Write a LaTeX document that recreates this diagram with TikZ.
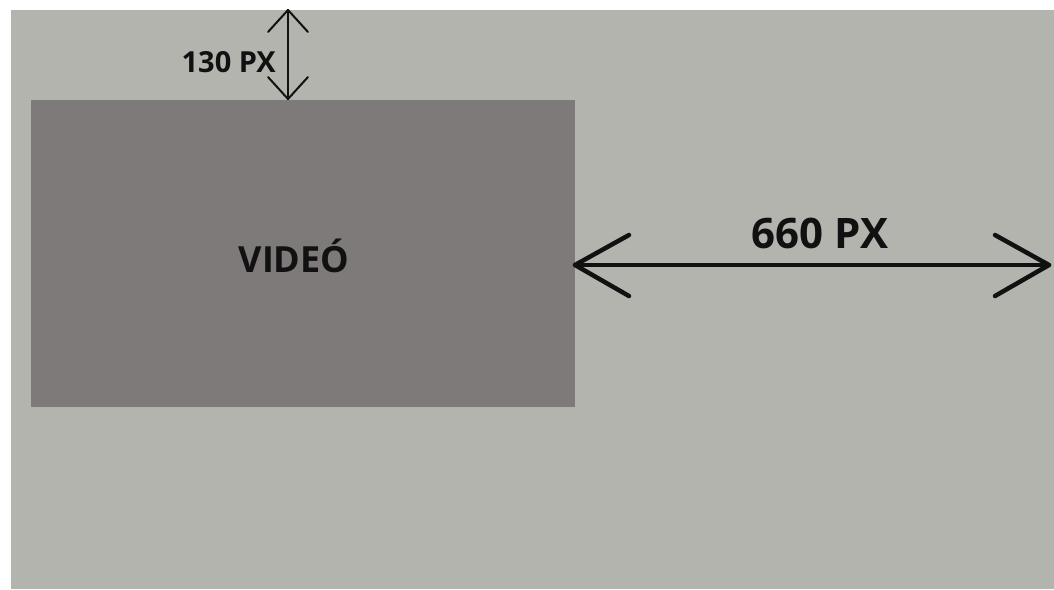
\documentclass[tikz,border=0pt]{standalone}
\usepackage{fontspec}
\setmainfont{Open Sans}
\usetikzlibrary{calc}
\definecolor{bggray}{HTML}{B4B4AE}
\definecolor{vidgray}{HTML}{7E7A7A}
\definecolor{ink}{HTML}{111111}
\begin{document}
\begin{tikzpicture}[x=1pt,y=-1pt,
  dimline/.style={draw=ink,line cap=round,line join=round},
  lbl/.style={text=ink,font=\bfseries,inner sep=0pt}]
\useasboundingbox (0,0) rectangle (1054,589);
\fill[white] (0,0) rectangle (1054,589);
\fill[bggray] (11,10) rectangle (1054,589);
\node[fill=vidgray,minimum width=544pt,minimum height=307pt,inner sep=0pt,anchor=north west] (video) at (31,100) {};
\node[lbl,font=\bfseries\fontsize{36}{40}\selectfont] (vlabel) at (294,256) {VIDEÓ};
% vertical dimension
\coordinate (vtop) at (288,10);
\coordinate (vbot) at (288,99);
\draw[dimline,line width=2pt] (vtop) -- (vbot);
\draw[dimline,line width=2pt] ($(vtop)+(-20,22)$) -- (vtop) -- ($(vtop)+(20,22)$);
\draw[dimline,line width=2pt] ($(vbot)+(-20,-22)$) -- (vbot) -- ($(vbot)+(20,-22)$);
\node[lbl,font=\bfseries\fontsize{29}{32}\selectfont,anchor=east] (vdim) at (276,62) {130 PX};
% horizontal dimension
\coordinate (hl) at (575,265);
\coordinate (hr) at (1049,265);
\draw[dimline,line width=4.5pt] (hl) -- (hr);
\draw[dimline,line width=4.5pt] ($(hl)+(54,-30)$) -- (hl) -- ($(hl)+(54,31)$);
\draw[dimline,line width=4.5pt] ($(hr)+(-54,-30)$) -- (hr) -- ($(hr)+(-54,31)$);
\node[lbl,font=\bfseries\fontsize{42}{46}\selectfont] (hdim) at (820,233) {660 PX};
\end{tikzpicture}
\end{document}
